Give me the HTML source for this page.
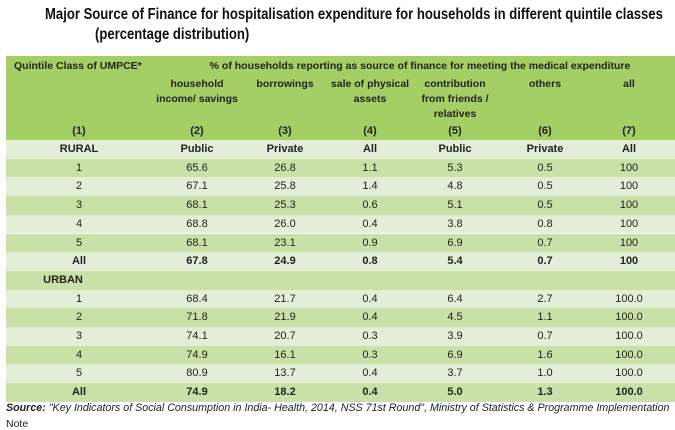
<!DOCTYPE html>
<html><head><meta charset="utf-8"><style>
body{margin:0;width:675px;height:422px;overflow:hidden;background:#fff;font-family:"Liberation Sans",sans-serif;position:relative}
.t{position:absolute;font-weight:bold;font-size:15.5px;color:#111;white-space:nowrap;transform:scaleX(0.845);transform-origin:left}
#hdr{position:absolute;left:6px;top:56px;width:669px;height:84px;background:#a4cf64}
.r{position:absolute;left:6px;width:669px;height:19px}
.c{position:absolute;font-size:11px;color:#222;transform:translateX(-50%);white-space:nowrap;text-align:center;line-height:15px}
.b{font-weight:bold}
.h{position:absolute;font-size:10.5px;font-weight:bold;color:#222;line-height:15px;text-align:center;white-space:nowrap}
</style></head><body>
<div class="t" style="left:45px;top:6px">Major Source of Finance for hospitalisation expenditure for households in different quintile classes</div>
<div class="t" style="left:95px;top:26px">(percentage distribution)</div>
<div id="hdr"></div>
<div class="h" style="left:14px;top:59px">Quintile Class of UMPCE*</div>
<div class="h" style="left:420px;top:59px;transform:translateX(-50%)">% of households reporting as source of finance for meeting the medical expenditure</div>
<div class="h" style="left:197px;top:77px;transform:translateX(-50%)">household<br>income/ savings</div>
<div class="h" style="left:285px;top:77px;transform:translateX(-50%)">borrowings</div>
<div class="h" style="left:370px;top:77px;transform:translateX(-50%)">sale of physical<br>assets</div>
<div class="h" style="left:455px;top:77px;transform:translateX(-50%)">contribution<br>from friends /<br>relatives</div>
<div class="h" style="left:545px;top:77px;transform:translateX(-50%)">others</div>
<div class="h" style="left:629px;top:77px;transform:translateX(-50%)">all</div>
<div id="rows"></div>
<div style="position:absolute;left:6px;top:402px;font-size:10.7px;font-style:italic;color:#222;white-space:nowrap"><b>Source:</b> "Key Indicators of Social Consumption in India- Health, 2014, NSS 71st Round", Ministry of Statistics &amp; Programme Implementation</div>
<div style="position:absolute;left:6px;top:418px;font-size:10.5px;color:#222">Note</div>
<script>
const colX=[79,197,285,370,455,545,629];
const rowsData=[
["(1)","(2)","(3)","(4)","(5)","(6)","(7)"],
["RURAL","Public","Private","All","Public","Private","All"],
["1","65.6","26.8","1.1","5.3","0.5","100"],
["2","67.1","25.8","1.4","4.8","0.5","100"],
["3","68.1","25.3","0.6","5.1","0.5","100"],
["4","68.8","26.0","0.4","3.8","0.8","100"],
["5","68.1","23.1","0.9","6.9","0.7","100"],
["All","67.8","24.9","0.8","5.4","0.7","100"],
["URBAN","","","","","",""],
["1","68.4","21.7","0.4","6.4","2.7","100.0"],
["2","71.8","21.9","0.4","4.5","1.1","100.0"],
["3","74.1","20.7","0.3","3.9","0.7","100.0"],
["4","74.9","16.1","0.3","6.9","1.6","100.0"],
["5","80.9","13.7","0.4","3.7","1.0","100.0"],
["All","74.9","18.2","0.4","5.0","1.3","100.0"]];
const boldRows=[0,1,7,14];
const host=document.getElementById('rows');
rowsData.forEach((row,i)=>{
  const top=i===0?122:140+(i-1)*18.7;
  if(i>0){
    const bg=document.createElement('div');
    bg.className='r';
    bg.style.top=top+'px';
    bg.style.height='18.7px';
    bg.style.background=(i%2===1)?'#e3eed6':'#c9e1a6';
    
    
    host.appendChild(bg);
  }
  row.forEach((v,j)=>{
    if(!v)return;
    const c=document.createElement('div');
    c.className='c'+(boldRows.includes(i)||v==='URBAN'?' b':'');
    c.style.left=(v==='URBAN'?63:colX[j])+'px';
    c.style.top=(top+2)+'px';
    c.textContent=v;
    
    
    host.appendChild(c);
  });
});
</script>
</body></html>
